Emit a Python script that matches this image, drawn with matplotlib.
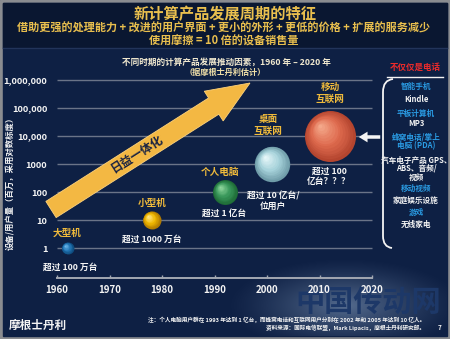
import numpy as np
import matplotlib
matplotlib.use("Agg")
import matplotlib.pyplot as plt
from matplotlib.transforms import Affine2D, offset_copy
from matplotlib.patches import Polygon, Rectangle, FancyArrowPatch
from matplotlib.path import Path
from matplotlib.patches import PathPatch

plt.rcParams['font.family'] = ['Noto Sans CJK SC', 'DejaVu Sans']
plt.rcParams['font.weight'] = 'bold'

# ---- data -------------------------------------------------------------
eras = ["大型机", "小型机", "个人电脑", "桌面\n互联网", "移动\n互联网"]
era_years = [1962, 1978, 1992, 2001, 2012]
era_users = [1, 10, 100, 1000, 10000]          # millions of devices / users
era_notes = ["超过 100 万台", "超过 1000 万台", "超过 1 亿台",
             "超过 10 亿台/\n位用户", "超过 100\n亿台？？？"]

y_ticks = [1, 10, 100, 1000, 10000, 100000, 1000000]
y_tick_labels = ["1", "10", "100", "1000", "10,000", "100,000", "1,000,000"]
x_ticks = [1960, 1970, 1980, 1990, 2000, 2010, 2020]

devices = ["智能手机", "Kindle", "平板计算机", "MP3", "蜂窝电话/掌上", "电脑 (PDA)",
           "汽车电子产品 GPS、", "ABS、音频/", "视频", "移动视频", "家庭娱乐设施",
           "游戏", "无线家电"]
device_is_heading = [True, False, True, False, True, True,
                     False, False, False, True, False, True, False]

# ---- styling ----------------------------------------------------------
W, H = 450, 339
BG = "#0e2044"
HEADER = "#0a1731"
GOLD = "#f0bb3c"
WHITE = "#f4f4f4"
BLUE = "#2a9be3"
GRID = "#6a7488"

bubble_radius_px = [6, 9, 12.5, 17.7, 25.5]
bubble_edge = ["#0f4d80", "#b07a00", "#1e6a36", "#6f9ca8", "#b4452f"]
bubble_mid = ["#2378b8", "#f0b800", "#38975a", "#a6d2da", "#de6a4e"]
bubble_hi = ["#6fb8ea", "#ffe78a", "#8fd69c", "#e6f7f9", "#f4a88a"]
label_offsets_px = [(0, 15), (1, 17), (-5, 20), (-4, 39), (0, 43)]
note_offsets_px = [(3, -19), (0, -19), (-1, -21), (1, -37), (-1, -40)]

fig = plt.figure(figsize=(W / 100, H / 100), dpi=100)
px = Affine2D().scale(1 / W, -1 / H).translate(0, 1) + fig.transFigure

# background layer in pixel coordinates
bg = fig.add_axes([0, 0, 1, 1], zorder=-1)
bg.set_xlim(0, W)
bg.set_ylim(H, 0)
bg.axis("off")
bg.add_patch(Rectangle((0, 0), W, H, color="#8a8c90"))
bg.add_patch(Rectangle((3, 3), W - 6, H - 6, color=BG))
bg.add_patch(Rectangle((3, 3), W - 6, 45, color=HEADER))
bg.plot([3, W - 3], [48, 48], color="#22345a", lw=1)

# soft glow behind the watermark
yy, xx = np.mgrid[0:H, 0:W]
d = np.sqrt(((xx - 345) / 120.0) ** 2 + ((yy - 305) / 48.0) ** 2)
alpha = np.clip(1 - d, 0, 1) ** 1.3 * 0.6
glow = np.zeros((H, W, 4))
glow[..., 0], glow[..., 1], glow[..., 2] = 0.52, 0.62, 0.76
glow[..., 3] = alpha
glow[:3, :, 3] = 0
glow[H - 3:, :, 3] = 0
glow[:, W - 3:, 3] = 0
bg.imshow(glow, extent=(0, W, H, 0), interpolation="bilinear", zorder=2)
bg.text(368, 303, "中国传动网", color="#1d3868", fontsize=21, fontweight="bold",
        ha="center", va="center", zorder=3)

# ---- main chart -------------------------------------------------------
ax = fig.add_axes([57 / W, 1 - 248 / H, 315 / W, 168 / H])
ax.set_facecolor("none")
ax.set_xlim(1960, 2020)
ax.set_yscale("log")
ax.set_ylim(1, 1e6)
for s in ("top", "right", "left"):
    ax.spines[s].set_visible(False)
ax.spines["bottom"].set_position(("outward", 21.6))
ax.spines["bottom"].set_color("#a3a8b2")
ax.spines["bottom"].set_linewidth(1.4)
ax.set_xticks(x_ticks)
ax.set_xticklabels([str(t) for t in x_ticks])
ax.tick_params(axis="x", direction="in", length=2.5, width=1, color="#a3a8b2",
               labelcolor=WHITE, labelsize=7, pad=5)
ax.set_yticks(y_ticks)
ax.set_yticklabels(y_tick_labels)
ax.yaxis.set_minor_locator(matplotlib.ticker.NullLocator())
ax.tick_params(axis="y", length=0, labelcolor=WHITE, labelsize=6.6, pad=7)
for lab in ax.get_xticklabels() + ax.get_yticklabels():
    lab.set_fontweight("bold")
ax.hlines(y_ticks, 1960, 2020, color=GRID, lw=1.0, clip_on=False, zorder=1)

# big "integration" arrow
tail = np.array([51.0, 209.5])
tip = np.array([250.0, 83.0])
u = (tip - tail) / np.linalg.norm(tip - tail)
n = np.array([-u[1], u[0]])
base = tip - 43 * u
pts = [tail + 9.6 * n, base + 9.6 * n, base + 17.6 * n, tip,
       base - 17.6 * n, base - 9.6 * n, tail - 9.6 * n]
ax.add_patch(Polygon(pts, closed=True, transform=px, facecolor="#f3b843",
                     edgecolor="#ffd27a", lw=0.6, clip_on=False, zorder=2))
ang = np.degrees(np.arctan2(-u[1], u[0]))
fig.text(137, 154, "日益一体化", transform=px, rotation=ang, rotation_mode="anchor",
         ha="center", va="center", color="#1b2442", fontsize=8.6, fontweight="bold")

# shaded spheres
n_layers = 14
for i in range(len(era_years)):
    r = bubble_radius_px[i]
    c_edge = np.array(matplotlib.colors.to_rgb(bubble_edge[i]))
    c_mid = np.array(matplotlib.colors.to_rgb(bubble_mid[i]))
    c_hi = np.array(matplotlib.colors.to_rgb(bubble_hi[i]))
    for k in range(n_layers):
        f = 1 - k / n_layers
        rad = r * f
        shift = (1 - f) * r * 0.42
        t = k / (n_layers - 1)
        if t < 0.45:
            col = c_edge + (c_mid - c_edge) * (t / 0.45)
        else:
            col = c_mid + (c_hi - c_mid) * ((t - 0.45) / 0.55)
        tr = offset_copy(ax.transData, fig=fig, x=-shift * 0.72, y=shift * 0.72,
                         units="points")
        ax.scatter([era_years[i]], [era_users[i]], s=(2 * rad * 0.72) ** 2,
                   color=col, transform=tr, clip_on=False, zorder=3 + k * 0.01,
                   linewidths=0)

for i in range(len(era_years)):
    dx, dy = label_offsets_px[i]
    ax.annotate(eras[i], (era_years[i], era_users[i]), xytext=(dx * 0.72, dy * 0.72),
                textcoords="offset points", ha="center", va="center", color=GOLD,
                fontsize=6.9, fontweight="bold", linespacing=1.3,
                annotation_clip=False, zorder=5)
    dx, dy = note_offsets_px[i]
    ax.annotate(era_notes[i], (era_years[i], era_users[i]), xytext=(dx * 0.72, dy * 0.72),
                textcoords="offset points", ha="center", va="center", color=WHITE,
                fontsize=6.3, fontweight="bold", linespacing=1.2,
                annotation_clip=False, zorder=5)

# ---- header & captions -----------------------------------------------
fig.text(225, 14, "新计算产品发展周期的特征", transform=px, ha="center", va="center",
         color="#e9bf4e", fontsize=11.0, fontweight="bold")
fig.text(224, 28, "借助更强的处理能力 + 改进的用户界面 + 更小的外形 + 更低的价格 + 扩展的服务减少",
         transform=px, ha="center", va="center", color="#e9bf4e", fontsize=8.0,
         fontweight="bold")
fig.text(224, 41, "使用摩擦 = 10 倍的设备销售量", transform=px, ha="center", va="center",
         color="#e9bf4e", fontsize=8.0, fontweight="bold")
fig.text(226, 62, "不同时期的计算产品发展推动因素，1960 年 – 2020 年", transform=px,
         ha="center", va="center", color="#f1e9cf", fontsize=6.2, fontweight="bold")
fig.text(225, 72, "（据摩根士丹利估计）", transform=px, ha="center", va="center",
         color="#f1e0a8", fontsize=5.9, fontweight="bold")

fig.text(10, 181, "设备/用户量（百万，采用对数标度）", transform=px, rotation=90,
         ha="center", va="center", color=WHITE, fontsize=6.0, fontweight="bold")

fig.text(38, 325, "摩根士丹利", transform=px, ha="center", va="center", color=WHITE,
         fontsize=8.4, fontweight="bold")
fig.text(425, 320, "注：个人电脑用户群在 1993 年达到 1 亿台，而蜂窝电话和互联网用户分别在 2002 年和 2005 年达到 10 亿人。",
         transform=px, ha="right", va="center", color=WHITE, fontsize=4.1,
         fontweight="bold", style="italic")
fig.text(425, 328, "资料来源：国际电信联盟，Mark Lipacis，摩根士丹利研究部。",
         transform=px, ha="right", va="center", color=WHITE, fontsize=4.1,
         fontweight="bold", style="italic")
fig.text(440, 328, "7", transform=px, ha="center", va="center", color=WHITE,
         fontsize=4.5, fontweight="bold")

# ---- right-hand device list ------------------------------------------
fig.text(415, 67, "不仅仅是电话", transform=px, ha="center", va="center",
         color="#ee2b2b", fontsize=6.1, fontweight="bold")
bg.plot([387, 443], [76.5, 76.5], color=WHITE, lw=1.0, zorder=4)

bracket = Path([(393, 79), (383, 80), (383, 92), (383, 236), (383, 247), (392, 248)],
               [Path.MOVETO, Path.CURVE3, Path.CURVE3, Path.LINETO, Path.CURVE3,
                Path.CURVE3])
fig.add_artist(PathPatch(bracket, transform=px, facecolor="none", edgecolor=WHITE,
                         lw=1.3))
fig.add_artist(FancyArrowPatch((383, 137), (356, 137), transform=px,
                               arrowstyle="simple,head_width=0.55,head_length=0.45,tail_width=0.18",
                               mutation_scale=14, color=WHITE, lw=0))

list_y = [86, 100, 113, 124, 137, 146, 160, 168.5, 177, 188, 200, 212.5, 224]
for text, y, head in zip(devices, list_y, device_is_heading):
    fig.text(416, y, text, transform=px, ha="center", va="center",
             color=BLUE if head else WHITE, fontsize=5.5, fontweight="bold")

fig.savefig("out.png", dpi=100, facecolor=BG)
